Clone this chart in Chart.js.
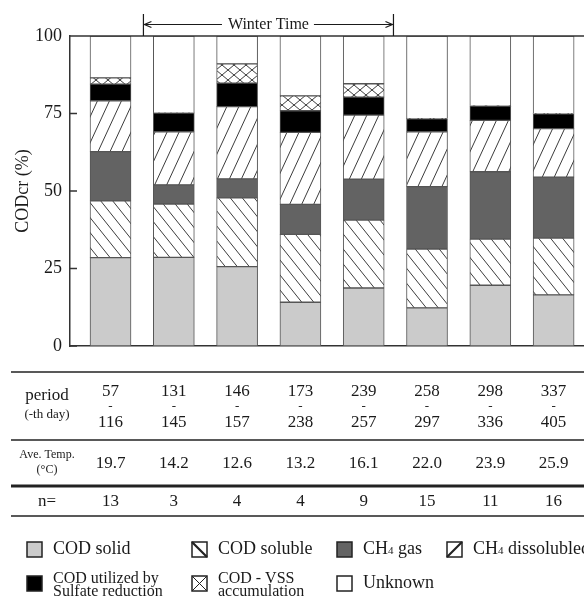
<!DOCTYPE html>
<html>
<head>
<meta charset="utf-8">
<title>CODcr balance</title>
<script src="https://cdn.jsdelivr.net/npm/chart.js@4.4.1/dist/chart.umd.min.js"></script>
<style>
  html, body { margin: 0; padding: 0; background: #fff; }
  #wrap { width: 584px; height: 597px; position: relative; overflow: hidden; }
</style>
</head>
<body>
<div id="wrap"><canvas id="codChart" width="584" height="597"></canvas></div>
<script>
// ---- data ----
var periodStart = ['57', '131', '146', '173', '239', '258', '298', '337'];
var periodEnd   = ['116', '145', '157', '238', '257', '297', '336', '405'];
var aveTemp     = ['19.7', '14.2', '12.6', '13.2', '16.1', '22.0', '23.9', '25.9'];
var nCount      = ['13', '3', '4', '4', '9', '15', '11', '16'];

var codSolid         = [28.5, 28.6, 25.6, 14.1, 18.7, 12.3, 19.6, 16.5];
var codSoluble       = [18.3, 17.2, 22.2, 21.9, 21.9, 19.0, 14.9, 18.3];
var ch4Gas           = [15.9, 6.2, 6.1, 9.7, 13.2, 20.1, 21.7, 19.7];
var ch4Dissolved     = [16.4, 17.1, 23.3, 23.2, 20.7, 17.7, 16.6, 15.6];
var sulfateReduction = [5.4, 6.0, 7.6, 7.0, 5.8, 4.2, 4.6, 4.8];
var vssAccum         = [2.0, 0, 6.2, 4.8, 4.3, 0, 0, 0];
var unknownPart      = [13.5, 24.9, 9.0, 19.3, 15.4, 26.7, 22.6, 25.1];

var yTicks = [0, 25, 50, 75, 100];
// winter time spans between period 1|2 and period 5|6
var winterFrom = 1.52, winterTo = 5.47;

var serif = "'Liberation Serif', 'Times New Roman', serif";
var ink = '#1a1a1a';

function hatch(w, h, kind) {
  var c = document.createElement('canvas');
  c.width = w; c.height = h;
  var g = c.getContext('2d');
  g.fillStyle = '#fff';
  g.fillRect(0, 0, w, h);
  g.strokeStyle = '#3c3c3c';
  g.lineWidth = 1;
  g.beginPath();
  for (var k = -1; k <= 1; k++) {
    if (kind === 'back' || kind === 'cross') { g.moveTo(k * w, 0); g.lineTo(k * w + w, h); }
    if (kind === 'fwd' || kind === 'cross') { g.moveTo(k * w, h); g.lineTo(k * w + w, 0); }
  }
  g.stroke();
  return g.createPattern(c, 'repeat');
}

var solublePat = hatch(12, 15, 'back');
var dissolvedPat = hatch(12, 26, 'fwd');
var vssPat = hatch(12, 10, 'cross');

function pts(arr) {
  return arr.map(function (v, i) { return { x: i + 1, y: v }; });
}

function mkSet(label, values, fill) {
  return {
    label: label,
    data: pts(values),
    backgroundColor: fill,
    borderColor: '#555',
    borderWidth: function (c) { return c.raw && c.raw.y ? 1 : 0; },
    borderSkipped: false,
    barThickness: 41
  };
}

var datasets = [
  mkSet('COD solid', codSolid, '#cbcbcb'),
  mkSet('COD soluble', codSoluble, solublePat),
  mkSet('CH4 gas', ch4Gas, '#636363'),
  mkSet('CH4 dissolubled', ch4Dissolved, dissolvedPat),
  mkSet('COD utilized by Sulfate reduction', sulfateReduction, '#000'),
  mkSet('COD - VSS accumulation', vssAccum, vssPat),
  mkSet('Unknown', unknownPart, '#fff')
];

function rich(ctx, parts, x, y) {
  parts.forEach(function (p) {
    ctx.font = p[1] + 'px ' + serif;
    ctx.fillText(p[0], x, y + (p[2] || 0));
    x += ctx.measureText(p[0]).width;
  });
}

var extras = {
  id: 'extras',
  afterDraw: function (chart) {
    var ctx = chart.ctx;
    var xs = chart.scales.x, ys = chart.scales.y;
    var a = chart.chartArea;
    ctx.save();

    // top frame line and inward ticks
    ctx.strokeStyle = '#333';
    ctx.lineWidth = 1.5;
    ctx.beginPath();
    ctx.moveTo(a.left, a.top);
    ctx.lineTo(a.right, a.top);
    yTicks.forEach(function (t) {
      var y = ys.getPixelForValue(t);
      ctx.moveTo(a.left, y);
      ctx.lineTo(a.left + 7, y);
    });
    ctx.stroke();

    // winter time marker
    var w1 = xs.getPixelForValue(winterFrom), w2 = xs.getPixelForValue(winterTo);
    var ay = 24.5;
    ctx.lineWidth = 1.2;
    ctx.strokeStyle = ink;
    ctx.beginPath();
    ctx.moveTo(w1, 14); ctx.lineTo(w1, a.top);
    ctx.moveTo(w2, 14); ctx.lineTo(w2, a.top);
    ctx.font = '16px ' + serif;
    var tw = ctx.measureText('Winter Time').width;
    var mid = (w1 + w2) / 2;
    ctx.moveTo(w1 + 1, ay); ctx.lineTo(mid - tw / 2 - 6, ay);
    ctx.moveTo(mid + tw / 2 + 5, ay); ctx.lineTo(w2 - 1, ay);
    ctx.moveTo(w1 + 8, ay - 3); ctx.lineTo(w1 + 1, ay); ctx.lineTo(w1 + 8, ay + 3);
    ctx.moveTo(w2 - 8, ay - 3); ctx.lineTo(w2 - 1, ay); ctx.lineTo(w2 - 8, ay + 3);
    ctx.stroke();
    ctx.fillStyle = ink;
    ctx.textAlign = 'center';
    ctx.textBaseline = 'middle';
    ctx.fillText('Winter Time', mid, ay);

    // table under the chart
    ctx.strokeStyle = '#222';
    [[372, 1.5], [440, 1.5], [486, 3], [516, 1.5]].forEach(function (l) {
      ctx.lineWidth = l[1];
      ctx.beginPath();
      ctx.moveTo(11, l[0]);
      ctx.lineTo(584, l[0]);
      ctx.stroke();
    });
    var lx = 47;
    ctx.font = '17px ' + serif;
    ctx.fillText('period', lx, 396);
    ctx.font = '13px ' + serif;
    ctx.fillText('(-th day)', lx, 415);
    ctx.font = '12px ' + serif;
    ctx.fillText('Ave. Temp.', lx, 455);
    ctx.fillText('(\u00B0C)', lx, 470);
    ctx.font = '17px ' + serif;
    ctx.fillText('n=', lx, 502);
    for (var i = 0; i < periodStart.length; i++) {
      var cx = xs.getPixelForValue(i + 1);
      ctx.font = '17px ' + serif;
      ctx.fillText(periodStart[i], cx, 392);
      ctx.fillText(periodEnd[i], cx, 423);
      ctx.fillText(aveTemp[i], cx, 464);
      ctx.fillText(nCount[i], cx, 502);
      ctx.font = '13px ' + serif;
      ctx.fillText('-', cx, 407);
    }

    // legend
    ctx.textAlign = 'left';
    var items = [
      { ds: 0, bx: 27, by: 542, parts: [['COD solid', 18]] },
      { ds: 1, bx: 192, by: 542, parts: [['COD soluble', 18]], mark: 'back' },
      { ds: 2, bx: 337, by: 542, parts: [['CH', 18], ['4', 11, 2], [' gas', 18]] },
      { ds: 3, bx: 447, by: 542, parts: [['CH', 18], ['4', 11, 2], [' dissolubled', 18]], mark: 'fwd' },
      { ds: 4, bx: 27, by: 576, lines: ['COD utilized by', 'Sulfate reduction'] },
      { ds: 5, bx: 192, by: 576, lines: ['COD - VSS', 'accumulation'], mark: 'cross' },
      { ds: 6, bx: 337, by: 576, parts: [['Unknown', 18]] }
    ];
    items.forEach(function (it) {
      var s = 15;
      var fill = chart.data.datasets[it.ds].backgroundColor;
      ctx.fillStyle = it.mark ? '#fff' : fill;
      ctx.fillRect(it.bx, it.by, s, s);
      ctx.strokeStyle = '#222';
      ctx.lineWidth = 1.5;
      ctx.strokeRect(it.bx, it.by, s, s);
      if (it.mark) {
        ctx.lineWidth = it.mark === 'cross' ? 1 : 2.2;
        ctx.beginPath();
        if (it.mark !== 'fwd') { ctx.moveTo(it.bx, it.by); ctx.lineTo(it.bx + s, it.by + s); }
        if (it.mark !== 'back') { ctx.moveTo(it.bx, it.by + s); ctx.lineTo(it.bx + s, it.by); }
        ctx.stroke();
      }
      ctx.fillStyle = ink;
      var tx = it.bx + 26;
      if (it.lines) {
        ctx.font = '16px ' + serif;
        ctx.fillText(it.lines[0], tx, it.by + 3);
        ctx.fillText(it.lines[1], tx, it.by + 16);
      } else {
        rich(ctx, it.parts, tx, it.by + s / 2);
      }
    });
    ctx.restore();
  }
};

var codChart = new Chart(document.getElementById('codChart').getContext('2d'), {
  type: 'bar',
  data: { datasets: datasets },
  options: {
    responsive: false,
    animation: false,
    layout: { padding: { top: 36, bottom: 251, left: 0, right: 0 } },
    plugins: { legend: { display: false }, tooltip: { enabled: false } },
    scales: {
      x: {
        type: 'linear',
        min: 0.36,
        max: 8.48,
        offset: false,
        stacked: true,
        ticks: { display: false },
        grid: { display: false, drawTicks: false, offset: false },
        border: { color: '#333', width: 1.5 },
        afterFit: function (s) { s.height = 0; }
      },
      y: {
        stacked: true,
        min: 0,
        max: 100,
        afterBuildTicks: function (s) { s.ticks = yTicks.map(function (v) { return { value: v }; }); },
        ticks: { color: ink, padding: 8, font: { family: serif, size: 18 } },
        grid: { display: false, drawTicks: false },
        border: { color: '#333', width: 1.5 },
        title: {
          display: true,
          text: 'CODcr (%)',
          color: ink,
          font: { family: serif, size: 18 },
          padding: { top: 12, bottom: 0 }
        },
        afterFit: function (s) { s.width = 70; }
      }
    }
  },
  plugins: [extras]
});
</script>
</body>
</html>
